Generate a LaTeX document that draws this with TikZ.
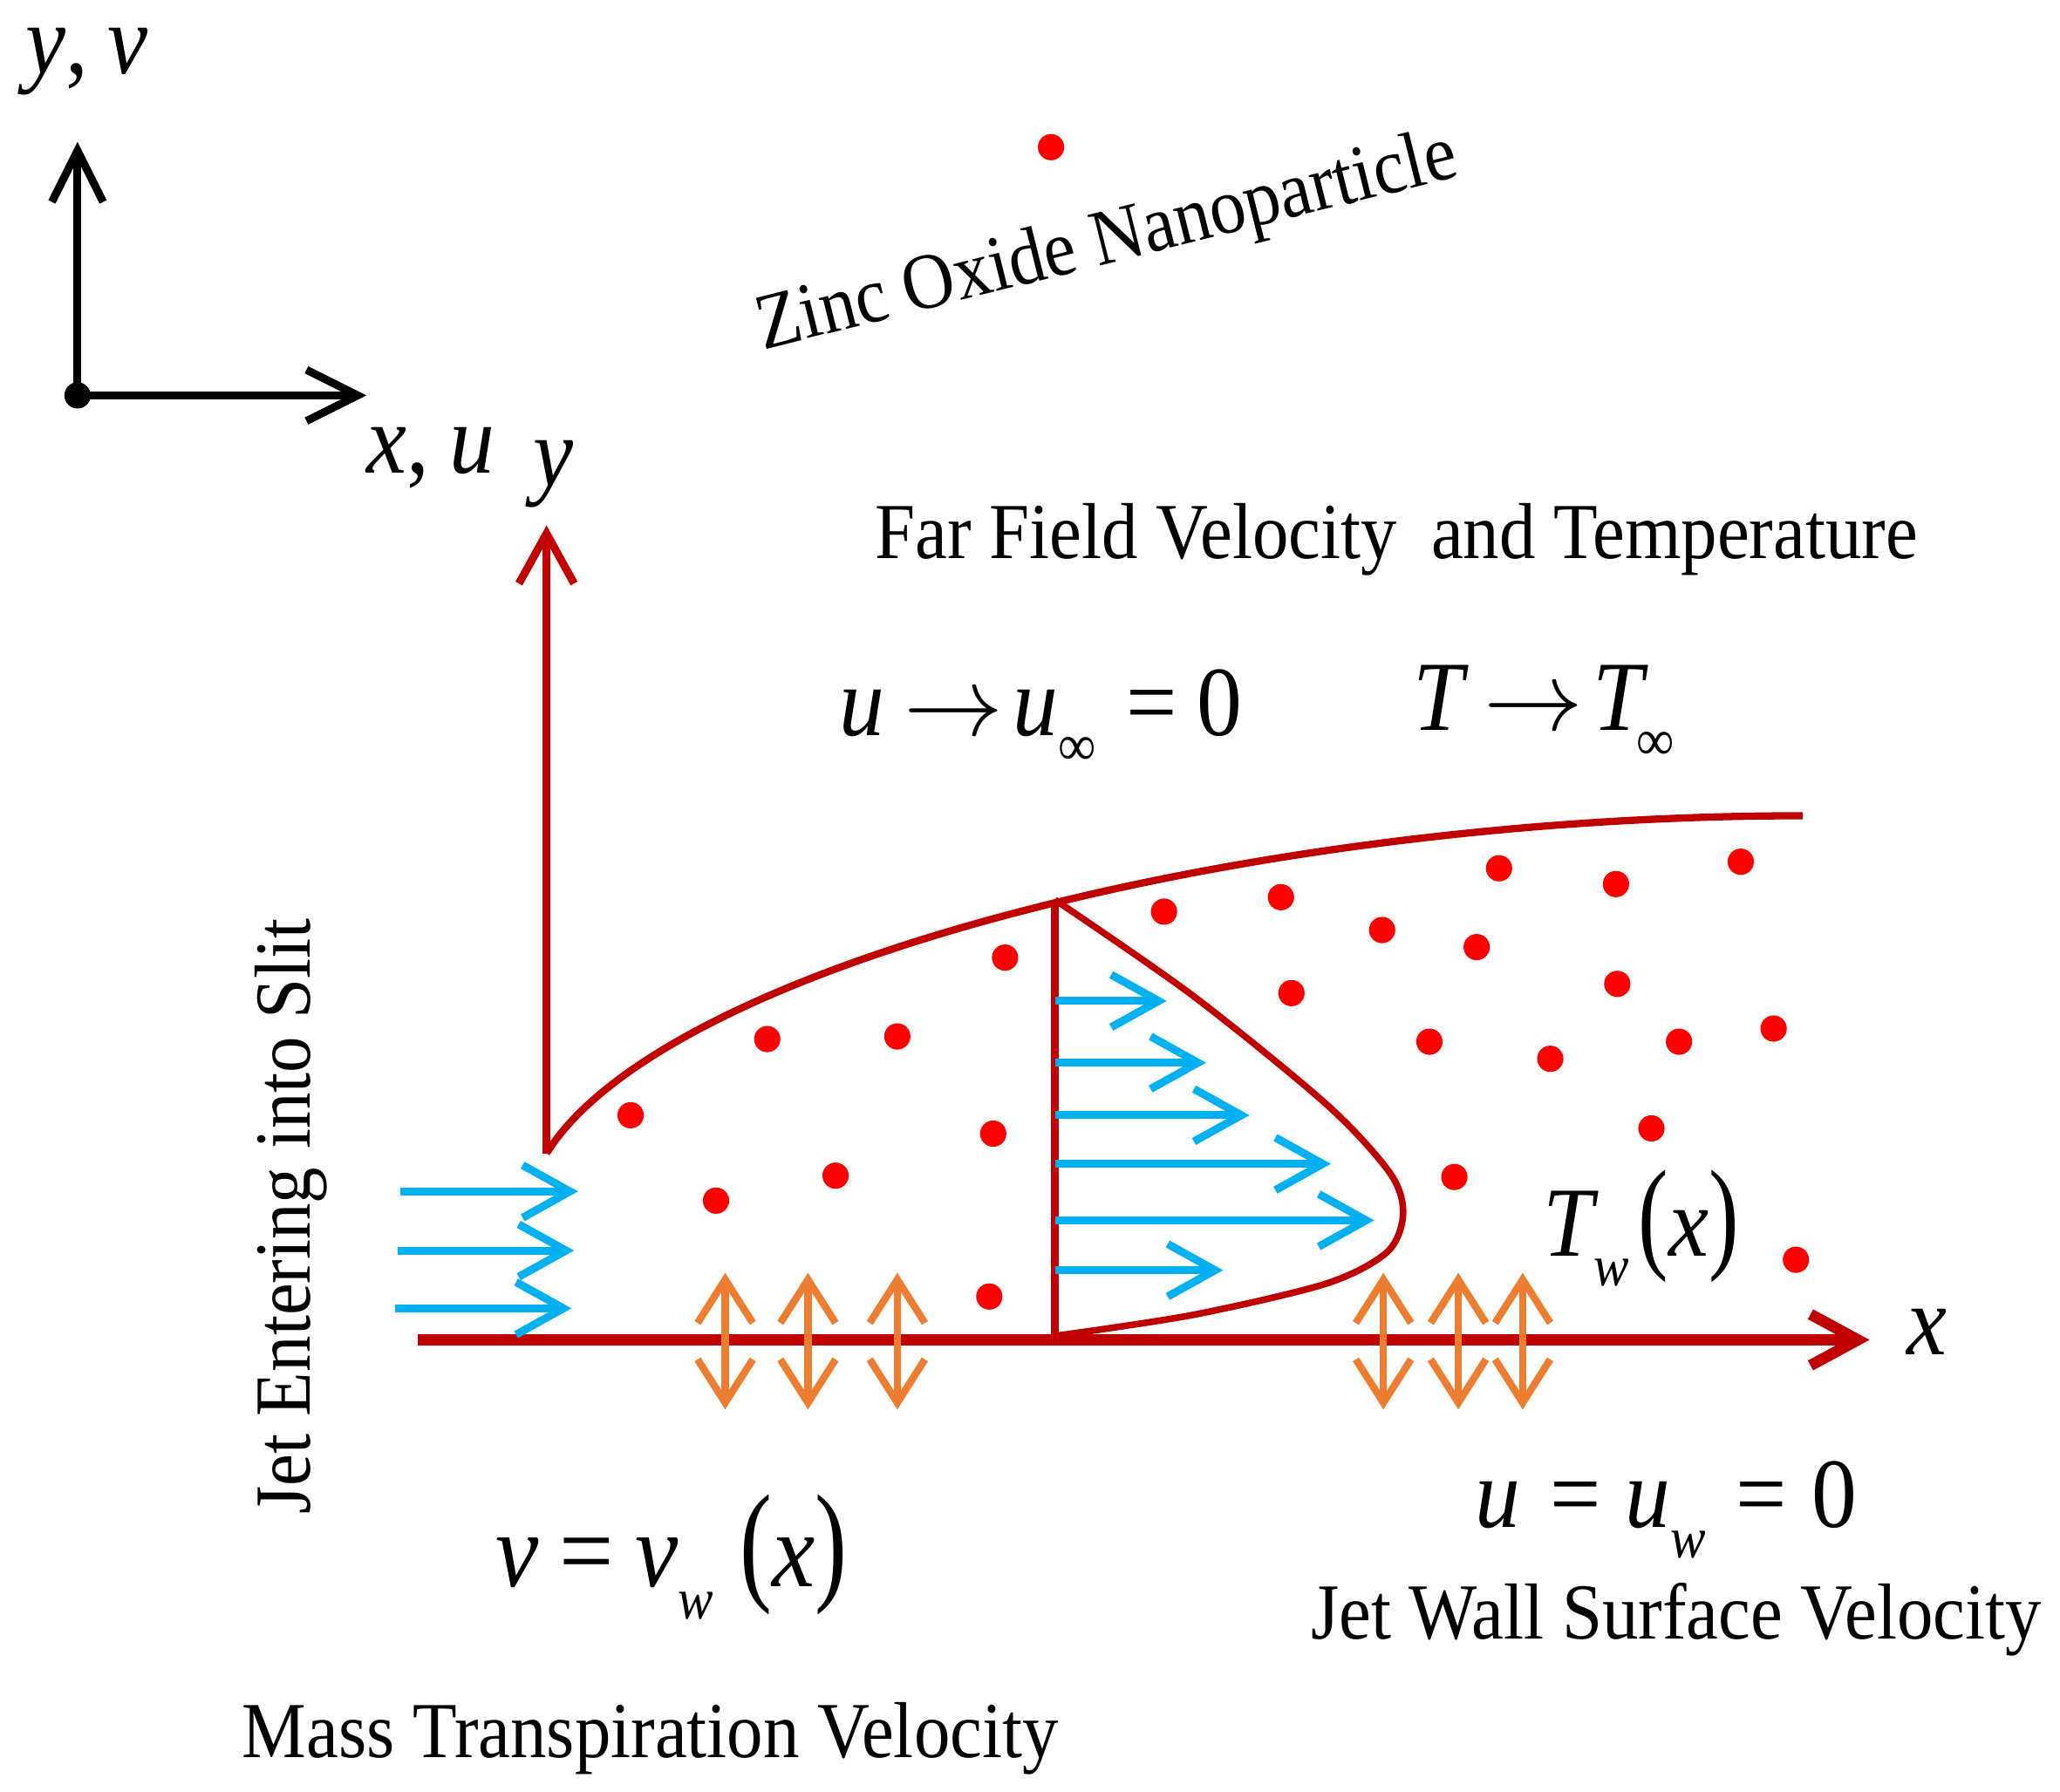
\RequirePackage{fix-cm}
\documentclass[tikz,border=0pt]{standalone}
\usepackage{fontspec}
\setmainfont{Liberation Serif}[FakeStretch=0.91]
\usepackage{graphicx}
\usetikzlibrary{arrows.meta}

\definecolor{wallred}{HTML}{C00000}
\definecolor{jetblue}{HTML}{00B0F0}
\definecolor{porange}{HTML}{ED7D31}
\definecolor{znored}{HTML}{FF0000}

\newcommand{\txtsize}{\fontsize{17.2}{20}\selectfont}
\newcommand{\eqsize}{\fontsize{21.5}{24}\selectfont}
\newcommand{\bigeqsize}{\fontsize{23}{26}\selectfont}
\newcommand{\subsize}{\fontsize{12.6}{14}\selectfont}
\newcommand{\lowsub}[1]{\raisebox{-0.3em}{\subsize #1}}
\newcommand{\tallparen}[1]{\scalebox{1}[1.25]{#1}}
\newcommand{\tends}{$\rightarrow$}

\begin{document}
\begin{tikzpicture}[x=0.1mm, y=-0.1mm,
  lbl/.style={inner sep=0pt, font=\txtsize},
  eq/.style={inner sep=0pt, font=\eqsize},
  frame/.style={line width=0.6mm, -{Straight Barb[length=3.9mm,width=3.9mm]}},
  redaxis/.style={wallred, line width=0.6mm, -{Straight Barb[length=3.8mm,width=4.2mm]}},
  wall/.style={wallred, line width=0.85mm, -{Straight Barb[length=3.6mm,width=3.9mm]}},
  layer/.style={wallred, line width=0.55mm},
  jet/.style={jetblue, line width=0.6mm, -{Straight Barb[length=3.6mm,width=4mm]}},
  suction/.style={porange, line width=0.55mm,
    {Straight Barb[length=3.3mm,width=4.2mm]}-{Straight Barb[length=3.3mm,width=4.2mm]}},
  particle/.style={circle, fill=znored, inner sep=0pt, minimum size=2mm}
]
\useasboundingbox (0,0) rectangle (1568,1364);

% reference frame
\node[circle, fill=black, inner sep=0pt, minimum size=2mm] (o) at (59,301) {};
\coordinate (oy) at (59,108);
\coordinate (ox) at (279,301);
\draw[frame] (o.center) -- (oy);
\draw[frame] (o.center) -- (ox);
\node[eq, anchor=base] (yv) at (66,56) {\textit{y},\hspace{0.2em}\textit{v}};
\node[eq, anchor=base] (xu) at (328,360) {\textit{x},\hspace{0.2em}\textit{u}};

% axes of the slit
\coordinate (lead) at (416,878);
\coordinate (ytip) at (416,400);
\draw[redaxis] (lead) -- (ytip);
\node[eq, anchor=base] (ylab) at (421,370) {\textit{y}};
\coordinate (w0) at (318,1020);
\coordinate (xtip) at (1423,1020);
\draw[wall] (w0) -- (xtip);
\node[eq, anchor=base] (xlab) at (1467,1031) {\textit{x}};

% boundary layer edge
\coordinate (edge) at (1372,621);
\draw[layer] (lead) .. controls (505,735) and (950,621) .. (edge);

% velocity profile
\coordinate (p0) at (803,1018);
\coordinate (p1) at (803,685);
\draw[layer, line width=0.6mm] (p0) -- (p1);
\draw[layer, line width=0.5mm] plot[smooth] coordinates {(803,685) (908,758)
  (1010,841) (1058,893) (1068,924) (1056,953) (1010,977) (908,1001) (803,1017)};
\foreach \i/\yy/\tip in {1/762/888, 2/809/918, 3/849/951, 4/886/1013, 5/929/1046, 6/967/931} {
  \coordinate (a\i) at (803,\yy);
  \coordinate (b\i) at (\tip,\yy);
  \draw[jet] (a\i) -- (b\i);
}

% jet entering
\foreach \i/\yy/\s/\tip in {1/907/305/440, 2/952/303/437, 3/996/301/435} {
  \coordinate (j\i) at (\s,\yy);
  \coordinate (k\i) at (\tip,\yy);
  \draw[jet] (j\i) -- (k\i);
}

% mass transpiration
\foreach \i/\xx in {1/552, 2/615, 3/683, 4/1053, 5/1110, 6/1159} {
  \coordinate (s\i) at (\xx,1073);
  \coordinate (t\i) at (\xx,969);
  \draw[suction] (s\i) -- (t\i);
}

% nanoparticles
\foreach \i/\xx/\yy in {1/800/112, 2/480/849, 3/584/791, 4/683/789, 5/545/914,
  6/636/895, 7/756/863, 8/765/729, 9/753/987, 10/886/694, 11/975/683,
  12/1052/708, 13/1124/721, 14/1141/661, 15/1230/673, 16/1325/656,
  17/983/756, 18/1231/749, 19/1088/793, 20/1180/806, 21/1278/793,
  22/1350/783, 23/1257/859, 24/1107/896, 25/1367/959}
  \node[particle] (n\i) at (\xx,\yy) {};

% labels
\node[lbl, rotate=14] (zno) at (843,186) {Zinc Oxide Nanoparticle};
\node[lbl, anchor=base] (far) at (1063,425) {Far Field Velocity\hspace{0.2em} and Temperature};
\node[lbl, rotate=90, anchor=base] (inlet) at (236,926) {Jet Entering into Slit};
\node[lbl, anchor=base] (mass) at (495,1338) {Mass Transpiration Velocity};
\node[lbl, anchor=base] (jwall) at (1276,1248) {Jet Wall Surface Velocity};

% conditions
\node[eq, anchor=base] (uinf) at (792,560)
  {\textit{u}\hspace{0.2em}\tends\hspace{0.1em}\textit{u}\lowsub{∞}\hspace{0.3em}=\hspace{0.2em}0};
\node[eq, anchor=base] (tinf) at (1175,556)
  {\textit{T}\hspace{0.15em}\tends\hspace{0.1em}\textit{T}\hspace{-0.12em}\lowsub{∞}};
\node[eq, anchor=base] (tw) at (1249,956)
  {\textit{T}\hspace{-0.05em}\lowsub{\textit{w}}\hspace{0.1em}\tallparen{(}\textit{x}\tallparen{)}};
\node[eq, anchor=base] (uw) at (1268,1163)
  {\textit{u}\hspace{0.3em}=\hspace{0.25em}\textit{u}\lowsub{\textit{w}}\hspace{0.3em}=\hspace{0.25em}0};
\node[eq, anchor=base, font=\bigeqsize] (vw) at (511,1208)
  {\textit{v}\hspace{0.2em}=\hspace{0.2em}\textit{v}\lowsub{\textit{w}}\hspace{0.25em}\tallparen{(}\textit{x}\tallparen{)}};

\end{tikzpicture}
\end{document}
